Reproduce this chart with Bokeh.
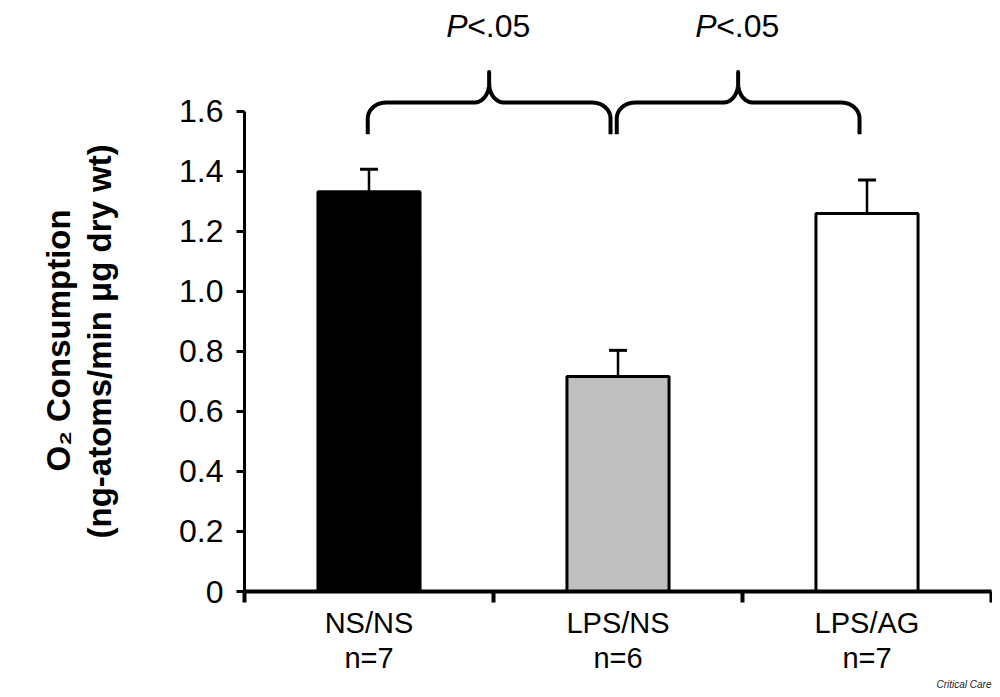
import numpy as np
from bokeh.plotting import figure
from bokeh.models import Range1d, FixedTicker, LinearAxis, Title, ColumnDataSource
from bokeh.core.properties import value
from bokeh.embed import file_html
from bokeh.resources import INLINE

# ---- data ----
groups = ["NS/NS", "LPS/NS", "LPS/AG"]
n_labels = ["n=7", "n=6", "n=7"]
means = [1.331, 0.716, 1.259]
errors = [0.075, 0.087, 0.111]
bar_colors = ["#000000", "#bfbfbf", "#ffffff"]
y_ticks = [0, 0.2, 0.4, 0.6, 0.8, 1.0, 1.2, 1.4, 1.6]
y_tick_labels = ["0", "0.2", "0.4", "0.6", "0.8", "1.0", "1.2", "1.4", "1.6"]
comparisons = [(0, 1), (1, 2)]
comparison_labels = ["<.05", "<.05"]
y_label_lines = ["O\u2082 Consumption", "(ng-atoms/min \u03bcg dry wt)"]

FONT = "Liberation Sans"
centers = [i + 0.5 for i in range(len(groups))]

p = figure(width=992, height=689, output_backend="svg", toolbar_location=None,
           x_range=Range1d(0, 3), y_range=Range1d(0, 1.968),
           min_border_left=244, min_border_right=1, min_border_top=0,
           min_border_bottom=97, x_axis_location=None, y_axis_location=None)
p.outline_line_color = None
p.xgrid.visible = False
p.ygrid.visible = False
p.background_fill_color = "white"
p.border_fill_color = "white"

# y axis
yax = LinearAxis(ticker=FixedTicker(ticks=y_ticks), bounds=(0, 1.6))
yax.major_label_overrides = {t: l for t, l in zip(y_ticks, y_tick_labels)}
yax.major_tick_in = 0
yax.major_tick_out = 8
yax.minor_tick_line_color = None
yax.axis_line_width = 3
yax.major_tick_line_width = 3
yax.major_label_text_font = FONT
yax.major_label_text_font_size = "32px"
yax.major_label_text_color = "black"
yax.major_label_standoff = 13
# blank axis label used only as spacing between tick labels and the y title
yax.axis_label = " "
yax.axis_label_text_font_size = "1px"
yax.axis_label_standoff = 53
p.add_layout(yax, "left")

# y title, two lines (line 2 nearest the axis), positioned along the axis
for text, offset in [(y_label_lines[1], 53), (y_label_lines[0], 120)]:
    t = Title(text=text, align="left", offset=offset, standoff=2,
              text_font=FONT, text_font_style="bold", text_font_size="33px",
              text_color="black")
    p.add_layout(t, "left")

# x axis with boundary ticks
xax = LinearAxis(ticker=FixedTicker(ticks=[0, 1, 2, 3]))
xax.major_label_overrides = {0: "", 1: "", 2: "", 3: ""}
xax.major_label_text_font_size = "0px"
xax.major_label_standoff = 0
xax.major_tick_in = 0
xax.major_tick_out = 11
xax.minor_tick_line_color = None
xax.axis_line_width = 4
xax.major_tick_line_width = 4
p.add_layout(xax, "below")

# category label rows
for labels, standoff in [(groups, 4), (n_labels, 0)]:
    ax = LinearAxis(ticker=FixedTicker(ticks=centers))
    ax.major_label_overrides = {c: l for c, l in zip(centers, labels)}
    ax.axis_line_color = None
    ax.major_tick_line_color = None
    ax.minor_tick_line_color = None
    ax.major_tick_out = 0
    ax.major_tick_in = 0
    ax.major_label_standoff = standoff
    ax.major_label_text_font = FONT
    ax.major_label_text_font_size = "29px"
    ax.major_label_text_color = "black"
    p.add_layout(ax, "below")

p.add_layout(Title(text="Critical Care", align="right", standoff=0,
                   text_font=FONT, text_font_style="italic", text_font_size="10px",
                   text_color="#222222"), "below")

# bars
src = ColumnDataSource(dict(x=centers, top=means, err_top=[m + e for m, e in zip(means, errors)],
                            color=bar_colors))
p.segment(x0="x", y0="top", x1="x", y1="err_top", source=src, line_color="black", line_width=2.5)
p.vbar(x="x", top="top", bottom=0, width=0.41, fill_color="color", line_color="black",
       line_width=3, source=src)
cap_half = 0.036
p.segment(x0=[c - cap_half for c in centers], y0=src.data["err_top"],
          x1=[c + cap_half for c in centers], y1=src.data["err_top"],
          line_color="black", line_width=3)

# braces
PX = 249.0   # px per x unit
PY = 300.8   # px per y unit
yb, yf, yt = 1.523, 1.628, 1.730

def brace(x0, x1):
    xm = (x0 + x1) / 2
    rx, ry = 18 / PX, 16 / PY
    cx, cy = 15 / PX, 19 / PY
    t = np.linspace(0, np.pi / 2, 20)
    xs, ys = [], []
    xs += [x0]; ys += [yb]
    xs += list(x0 + rx - rx * np.cos(t)); ys += list(yf - ry + ry * np.sin(t))
    xs += list(xm - cx + cx * np.sin(t)); ys += list(yf + cy - cy * np.cos(t))
    xs += [xm]; ys += [yt]
    xs2 = [2 * xm - v for v in xs[::-1]]
    ys2 = ys[::-1]
    return xs + xs2[1:], ys + ys2[1:]

bx, by, tips = [], [], []
for i, j in comparisons:
    x0 = centers[i] - 0.005
    x1 = centers[j] - 0.03
    xs, ys = brace(x0, x1)
    bx.append(xs); by.append(ys); tips.append((x0 + x1) / 2)
p.multi_line(xs=bx, ys=by, line_color="black", line_width=4, line_join="round", line_cap="butt")

label_y = 1.882
p.text(x=tips, y=[label_y] * len(tips), text=["P"] * len(tips), x_offset=-43,
       text_font=value(FONT), text_font_style="italic", text_font_size="32px",
       text_align="left", text_baseline="alphabetic", text_color="black")
p.text(x=tips, y=[label_y] * len(tips), text=comparison_labels, x_offset=-22,
       text_font=value(FONT), text_font_size="32px",
       text_align="left", text_baseline="alphabetic", text_color="black")

open("out.html", "w").write(file_html(p, INLINE))
